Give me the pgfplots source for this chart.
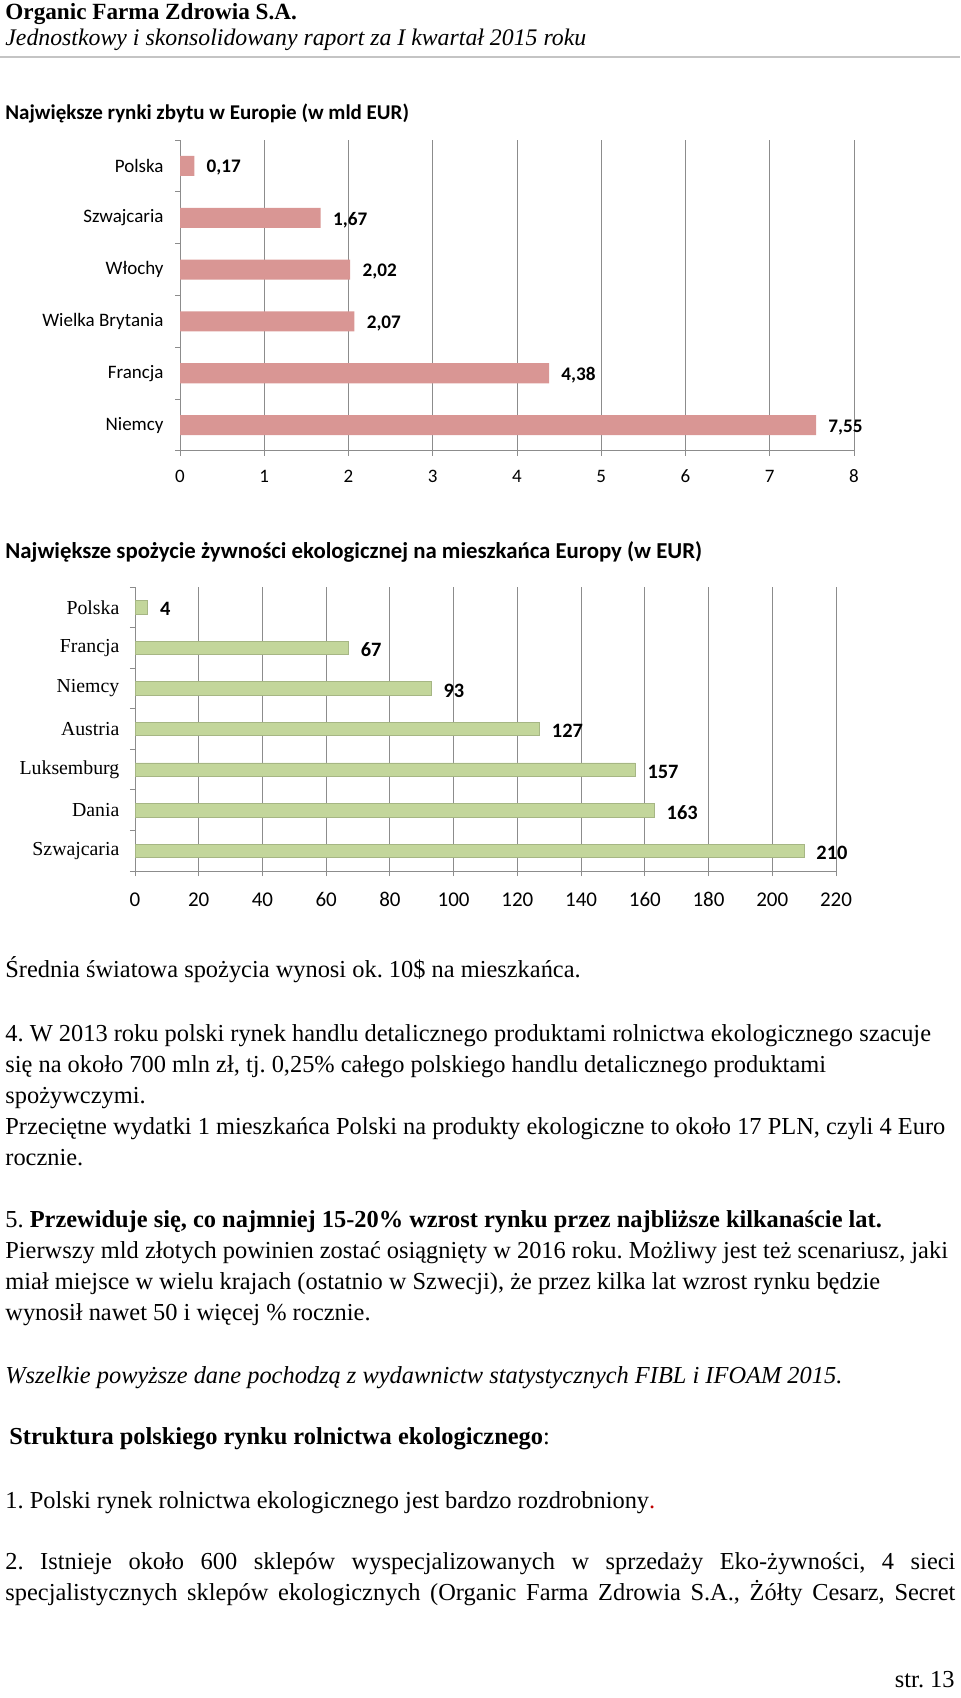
\documentclass[border=0pt]{standalone}
\usepackage{pgfplots}
\pgfplotsset{compat=1.18}
\usepackage{fontspec}
\setmainfont{Liberation Serif}
\newfontfamily\calibri{Carlito}
\definecolor{pinkbar}{HTML}{D99694}
\definecolor{greenbar}{HTML}{C3D69B}
\definecolor{gridgray}{HTML}{8C8C8C}
\definecolor{rulegray}{HTML}{C4C4C4}
\definecolor{darkred}{HTML}{C00000}
\newcommand{\bodyfont}{\fontsize{12.2}{14}\selectfont}
\frenchspacing
\begin{document}
\begin{tikzpicture}
\useasboundingbox (0,0) rectangle (480pt,-849pt);
\begin{scope}[x=0.5pt,y=-0.5pt, T/.style={anchor=base west, inner sep=0pt, font=\bodyfont}]
\node[anchor=base west, inner sep=0pt, font=\fontsize{11.6}{14}\selectfont\bfseries] at (5,19.3) {Organic Farma Zdrowia S.A.};
\node[anchor=base west, inner sep=0pt, font=\fontsize{11.9}{14}\selectfont\itshape] at (5,45) {Jednostkowy i skonsolidowany raport za I kwartał 2015 roku};
\draw[rulegray, line width=1pt] (0,57.3) -- (960,57.3);
\node[anchor=base west, inner sep=0pt, font=\calibri\bfseries\fontsize{10.5}{12}\selectfont] at (5,119) {Największe rynki zbytu w Europie (w mld EUR)};
\node[anchor=base west, inner sep=0pt, font=\calibri\bfseries\fontsize{11.4}{13}\selectfont] at (5,558.5) {Największe spożycie żywności ekologicznej na mieszkańca Europy (w EUR)};
\node[T] at (5,977) {Średnia światowa spożycia wynosi ok. 10\$ na mieszkańca.};
\node[T] at (5,1041) {4. W 2013 roku polski rynek handlu detalicznego produktami rolnictwa ekologicznego szacuje};
\node[T] at (5,1072) {się na około 700 mln zł, tj. 0,25\% całego polskiego handlu detalicznego produktami};
\node[T] at (5,1103) {spożywczymi.};
\node[T] at (5,1134) {Przeciętne wydatki 1 mieszkańca Polski na produkty ekologiczne to około 17 PLN, czyli 4 Euro};
\node[T] at (5,1165) {rocznie.};
\node[T] at (5,1227) {5. \textbf{Przewiduje się, co najmniej 15-20\% wzrost rynku przez najbliższe kilkanaście lat.}};
\node[T] at (5,1258) {Pierwszy mld złotych powinien zostać osiągnięty w 2016 roku. Możliwy jest też scenariusz, jaki};
\node[T] at (5,1289) {miał miejsce w wielu krajach (ostatnio w Szwecji), że przez kilka lat wzrost rynku będzie};
\node[T] at (5,1320) {wynosił nawet 50 i więcej \% rocznie.};
\node[T] at (5,1383) {\textit{Wszelkie powyższe dane pochodzą z wydawnictw statystycznych FIBL i IFOAM 2015.}};
\node[T] at (9,1444) {\textbf{Struktura polskiego rynku rolnictwa ekologicznego}:};
\node[T] at (5,1508) {1. Polski rynek rolnictwa ekologicznego jest bardzo rozdrobniony\textcolor{darkred}{.}};
\node[T] at (5,1569) {\makebox[475pt][s]{2. Istnieje około 600 sklepów wyspecjalizowanych w sprzedaży Eko-żywności, 4 sieci}};
\node[T] at (5,1600) {\makebox[475pt][s]{specjalistycznych sklepów ekologicznych (Organic Farma Zdrowia S.A., Żółty Cesarz, Secret}};
\node[anchor=base east, inner sep=0pt, font=\bodyfont] at (955,1687) {str. 13};
\end{scope}

\begin{axis}[
  at={(90pt,-70pt)}, anchor=north west,
  scale only axis, width=337pt, height=155.5pt,
  xbar, bar width=0.386,
  xmin=0, xmax=8, ymin=-0.5, ymax=5.5,
  axis lines*=left,
  axis line style={gridgray, line width=0.5pt},
  xmajorgrids, major grid style={gridgray, line width=0.5pt},
  xtick={0,...,8},
  xticklabels={0,1,2,3,4,5,6,7,8},
  ytick={-0.5,0.5,1.5,2.5,3.5,4.5,5.5},
  yticklabels={},
  extra y ticks={0,1,2,3,4,5},
  extra y tick labels={Niemcy,Francja,Wielka Brytania,Włochy,Szwajcaria,Polska},
  extra y tick style={tick style={draw=none}},
  tick align=outside, major tick length=2.5pt,
  tick style={gridgray, line width=0.5pt},
  xticklabel style={font=\calibri\fontsize{9.5}{11}\selectfont, text height=6.5pt, text depth=0pt, yshift=-3.3pt},
  yticklabel style={font=\calibri\fontsize{9.5}{11}\selectfont, xshift=-2.2pt},
  point meta=x,
  nodes near coords={\pgfmathprintnumber[fixed,fixed zerofill,precision=2,use comma,assume math mode=true]{\pgfplotspointmeta}},
  nodes near coords style={font=\calibri\bfseries\fontsize{9.6}{11}\selectfont, anchor=west, inner sep=0pt, xshift=6pt, yshift=-1pt},
  clip=false,
]
\addplot[fill=pinkbar, draw=none] coordinates {(7.55,0) (4.38,1) (2.07,2) (2.02,3) (1.67,4) (0.17,5)};
\end{axis}

\begin{axis}[
  at={(67.5pt,-293.5pt)}, anchor=north west,
  scale only axis, width=350.5pt, height=142pt,
  xbar, bar width=0.33,
  xmin=0, xmax=220, ymin=-0.5, ymax=6.5,
  axis lines*=left,
  axis line style={gridgray, line width=0.5pt},
  xmajorgrids, major grid style={gridgray, line width=0.5pt},
  xtick={0,20,...,220},
  xticklabels={0,20,40,60,80,100,120,140,160,180,200,220},
  ytick={-0.5,0.5,1.5,2.5,3.5,4.5,5.5,6.5},
  yticklabels={},
  extra y ticks={0,1,2,3,4,5,6},
  extra y tick labels={Szwajcaria,Dania,Luksemburg,Austria,Niemcy,Francja,Polska},
  extra y tick style={tick style={draw=none}},
  tick align=outside, major tick length=2.5pt,
  tick style={gridgray, line width=0.5pt},
  xticklabel style={font=\calibri\fontsize{10.5}{12}\selectfont, text height=7pt, text depth=0pt, yshift=-4.5pt},
  yticklabel style={font=\fontsize{9.9}{12}\selectfont, xshift=-1.8pt},
  point meta=x,
  nodes near coords={\pgfmathprintnumber[fixed,precision=0,assume math mode=true]{\pgfplotspointmeta}},
  nodes near coords style={font=\calibri\bfseries\fontsize{10.2}{12}\selectfont, anchor=west, inner sep=0pt, xshift=6pt, yshift=-1pt},
  clip=false,
]
\addplot[fill=greenbar, draw=greenbar!85!black, line width=0.3pt] coordinates {(210,0) (163,1) (157,2) (127,3) (93,4) (67,5) (4,6)};
\end{axis}
\end{tikzpicture}
\end{document}
